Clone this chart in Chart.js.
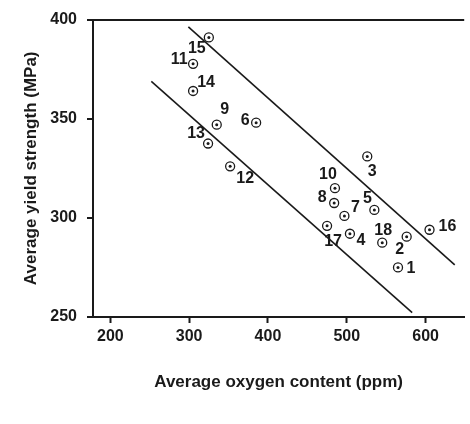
<!DOCTYPE html>
<html lang="en">
<head>
  <meta charset="UTF-8" />
  <title>Yield strength vs oxygen content</title>
  <script src="https://cdn.jsdelivr.net/npm/chart.js"></script>
  <style>
    body { margin: 0; background: #fff; }
    .wrap { width: 470px; height: 424px; }
  </style>
</head>
<body>
  <div class="wrap"><canvas id="chart" width="470" height="424"></canvas></div>

  <script>
    // sample numbers, oxygen (ppm) and yield strength (MPa)
    const sampleIds = ['1','2','3','4','5','6','7','8','9','10','11','12','13','14','15','16','17','18'];
    const oxygen   = [565, 576, 526, 504, 535, 385, 497, 484, 335, 485, 305, 352, 324, 305, 325, 605, 475, 545];
    const strength = [275, 290.5, 331, 292, 304, 348, 301, 307.5, 347, 315, 377.7, 326, 337.5, 364, 391, 294, 296, 287.5];

    // the two bounding lines
    const upperX = [299, 637];
    const upperY = [396.3, 276.3];
    const lowerX = [252, 583];
    const lowerY = [368.8, 252.2];

    const xTicks = [200, 300, 400, 500, 600];
    const yTicks = [250, 300, 350, 400];

    // where each sample number sits relative to its marker (px)
    const labelDx = [13, -7, 5, 11, -7, -11, 11, -12, 8, -7, -14, 15, -12, 13, -12, 18, 6, 1];
    const labelDy = [1, 13, 15, 7, -11, -2, -8, -5, -15, -14, -4, 12, -10, -8, 11, -3, 16, -12];

    const ink = '#1a1a1a';
    const fontFamily = "'Liberation Sans', Arial, sans-serif";

    const toXY = (xs, ys) => xs.map((x, i) => ({ x: x, y: ys[i] }));
    const points = toXY(oxygen, strength);

    const sampleLabels = {
      id: 'sampleLabels',
      afterDatasetsDraw(chart) {
        const ctx = chart.ctx;
        const meta = chart.getDatasetMeta(0);
        ctx.save();
        ctx.font = 'bold 16px ' + fontFamily;
        ctx.fillStyle = ink;
        ctx.textAlign = 'center';
        ctx.textBaseline = 'middle';
        meta.data.forEach((el, i) => {
          ctx.fillText(sampleIds[i], el.x + labelDx[i], el.y + labelDy[i]);
        });
        ctx.restore();
      }
    };

    new Chart(document.getElementById('chart'), {
      type: 'scatter',
      data: {
        datasets: [
          {
            // ring of each marker
            data: points,
            pointRadius: 4.5,
            pointBorderWidth: 1.3,
            pointBackgroundColor: 'rgba(0,0,0,0)',
            pointBorderColor: ink
          },
          {
            // centre dot of each marker
            data: points,
            pointRadius: 1.5,
            pointBorderWidth: 0,
            pointBackgroundColor: ink
          },
          {
            data: toXY(upperX, upperY),
            showLine: true,
            borderColor: ink,
            borderWidth: 1.6,
            pointRadius: 0
          },
          {
            data: toXY(lowerX, lowerY),
            showLine: true,
            borderColor: ink,
            borderWidth: 1.6,
            pointRadius: 0
          }
        ]
      },
      options: {
        responsive: false,
        animation: false,
        layout: { padding: { top: 17, right: 0, left: 0, bottom: 0 } },
        plugins: {
          legend: { display: false },
          tooltip: { enabled: false }
        },
        scales: {
          x: {
            type: 'linear',
            min: 178,
            max: 649,
            afterBuildTicks: s => { s.ticks = xTicks.map(v => ({ value: v })); },
            afterFit: s => { s.height = 107; },
            border: { color: ink, width: 2 },
            grid: { drawOnChartArea: false, tickLength: 6, tickColor: ink, tickWidth: 2 },
            ticks: { color: ink, padding: 4, font: { family: fontFamily, size: 16, weight: 'bold' } },
            title: {
              display: true,
              text: 'Average oxygen content (ppm)',
              color: ink,
              font: { family: fontFamily, size: 17, weight: 'bold' },
              padding: { top: 0, bottom: 31 }
            }
          },
          y: {
            min: 250,
            max: 400,
            afterBuildTicks: s => { s.ticks = yTicks.map(v => ({ value: v })); },
            afterFit: s => { s.width = 93; },
            border: { color: ink, width: 2 },
            grid: {
              color: c => (c.tick && c.tick.value === 400 ? ink : 'rgba(0,0,0,0)'),
              lineWidth: 2,
              tickLength: 6,
              tickColor: ink,
              tickWidth: 2
            },
            ticks: { color: ink, padding: 10, font: { family: fontFamily, size: 16, weight: 'bold' } },
            title: {
              display: true,
              text: 'Average yield strength (MPa)',
              color: ink,
              font: { family: fontFamily, size: 17, weight: 'bold' },
              padding: { top: 21, bottom: 0 }
            }
          }
        }
      },
      plugins: [sampleLabels]
    });
  </script>
</body>
</html>
